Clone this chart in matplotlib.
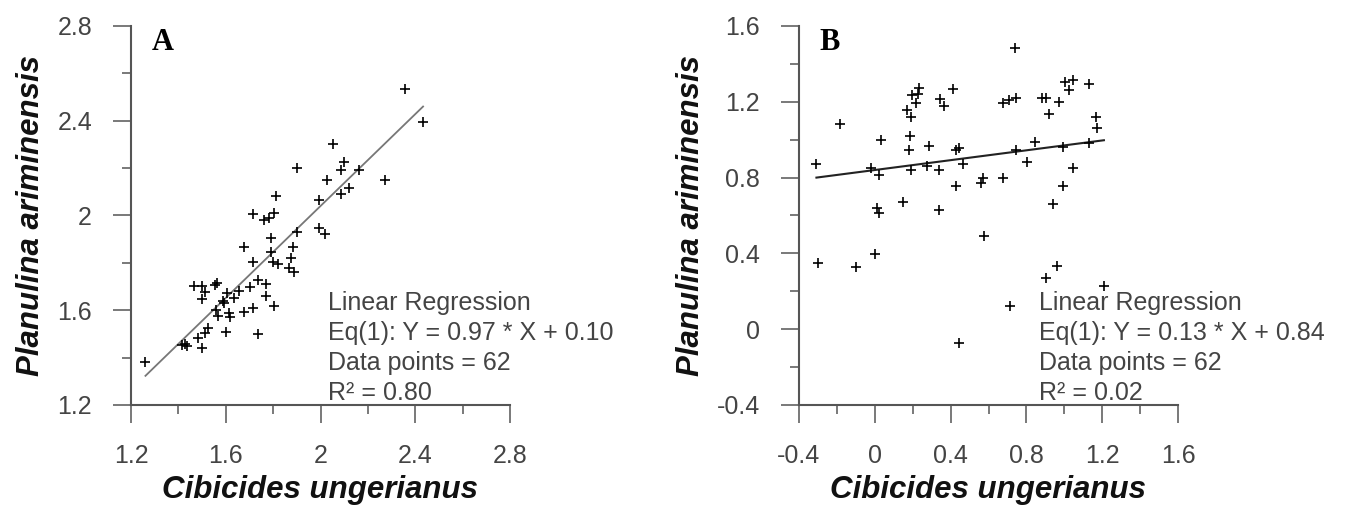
import matplotlib
matplotlib.use('Agg')
import matplotlib.pyplot as plt
from matplotlib.ticker import MultipleLocator, FormatStrFormatter

# Panel A: Cibicides ungerianus (x) vs Planulina ariminensis (y)
xa = [1.261, 2.358, 2.433, 2.052, 2.100, 2.086, 2.161, 1.900, 2.026, 2.271,
      2.120, 2.086, 1.994, 1.814, 1.714, 1.802, 1.784, 1.761, 1.900, 1.994,
      2.017, 1.789, 1.677, 1.882, 1.789, 1.874, 1.714, 1.798, 1.821, 1.867,
      1.889, 1.468, 1.499, 1.511, 1.499, 1.564, 1.555, 1.605, 1.635, 1.658,
      1.703, 1.738, 1.771, 1.771, 1.592, 1.559, 1.612, 1.567, 1.620, 1.677,
      1.714, 1.805, 1.601, 1.738, 1.526, 1.514, 1.483, 1.499, 1.415, 1.430,
      1.438, 1.590]
ya = [1.380, 2.536, 2.393, 2.301, 2.227, 2.192, 2.192, 2.199, 2.149, 2.149,
      2.114, 2.089, 2.065, 2.082, 2.006, 2.011, 1.988, 1.981, 1.931, 1.948,
      1.920, 1.903, 1.868, 1.868, 1.844, 1.822, 1.802, 1.802, 1.794, 1.779,
      1.762, 1.702, 1.702, 1.676, 1.647, 1.713, 1.705, 1.674, 1.650, 1.681,
      1.699, 1.727, 1.709, 1.660, 1.632, 1.601, 1.587, 1.576, 1.573, 1.591,
      1.608, 1.618, 1.507, 1.498, 1.524, 1.503, 1.484, 1.439, 1.453, 1.456,
      1.450, 1.640]
slope_a, icpt_a, n_a, r2_a = 0.97, 0.10, 62, 0.80

# Panel B
xb = [-0.308, -0.298, -0.185, -0.097, -0.001, -0.020, 0.021, 0.034, 0.009, 0.021,
      0.148, 0.168, 0.191, 0.187, 0.181, 0.191, 0.195, 0.220, 0.230, 0.234,
      0.285, 0.273, 0.338, 0.338, 0.342, 0.367, 0.412, 0.426, 0.445, 0.465,
      0.430, 0.445, 0.559, 0.573, 0.578, 0.676, 0.676, 0.710, 0.739, 0.745,
      0.743, 0.715, 0.802, 0.847, 0.880, 0.905, 0.919, 0.970, 0.993, 0.993,
      0.941, 0.905, 0.960, 1.048, 1.003, 1.023, 1.048, 1.130, 1.130, 1.166,
      1.175, 1.209]
yb = [0.872, 0.351, 1.083, 0.330, 0.397, 0.849, 0.814, 0.998, 0.638, 0.615,
      0.669, 1.157, 1.118, 1.020, 0.946, 0.840, 1.236, 1.192, 1.239, 1.271,
      0.967, 0.863, 0.629, 0.840, 1.213, 1.178, 1.266, 0.946, 0.954, 0.872,
      0.756, -0.071, 0.773, 0.796, 0.492, 0.796, 1.192, 1.209, 1.486, 1.218,
      0.946, 0.122, 0.884, 0.990, 1.218, 1.218, 1.136, 1.201, 0.963, 0.756,
      0.661, 0.268, 0.334, 0.849, 1.306, 1.262, 1.315, 1.294, 0.981, 1.118,
      1.063, 0.228]
slope_b, icpt_b, n_b, r2_b = 0.13, 0.84, 62, 0.02

xlabel = 'Cibicides ungerianus'
ylabel = 'Planulina ariminensis'

plt.rcParams['font.family'] = ['Liberation Sans', 'DejaVu Sans']

fig = plt.figure(figsize=(13.45, 5.08), dpi=100)
axA = fig.add_axes([131/1345, 103/508, 379/1345, 379/508])
axB = fig.add_axes([799/1345, 103/508, 379/1345, 379/508])

spine_col = '#555555'
tick_col = '#444444'


def style_axis(ax, lo, hi):
    ax.set_xlim(lo, hi)
    ax.set_ylim(lo, hi)
    for s in ['top', 'right']:
        ax.spines[s].set_visible(False)
    for s in ['left', 'bottom']:
        ax.spines[s].set_linewidth(1.5)
        ax.spines[s].set_color(spine_col)
    for axis in (ax.xaxis, ax.yaxis):
        axis.set_major_locator(MultipleLocator(0.4))
        axis.set_minor_locator(MultipleLocator(0.2))
        axis.set_major_formatter(FormatStrFormatter('%g'))
    ax.tick_params(which='major', length=13, width=1.1, color=spine_col,
                   labelsize=18, labelcolor=tick_col, pad=15)
    ax.tick_params(which='minor', length=6.5, width=1.1, color=spine_col)
    ax.set_xlabel(xlabel, fontsize=22.5, fontweight='bold', style='italic',
                  labelpad=5, color='#111111')
    ax.set_ylabel(ylabel, fontsize=22.5, fontweight='bold', style='italic',
                  labelpad=8, color='#111111')


def panel(ax, x, y, slope, icpt, n, r2, letter, lo, hi, tx, lcol, lw):
    style_axis(ax, lo, hi)
    ax.plot(x, y, '+', color='k', ms=7, mew=1.2, linestyle='none', zorder=3)
    x0, x1 = min(x), max(x)
    ax.plot([x0, x1], [slope*x0 + icpt, slope*x1 + icpt], color=lcol, lw=lw, zorder=2)
    ax.text(0.055, 0.995, letter, transform=ax.transAxes, fontsize=22,
            fontweight='bold', family='Liberation Serif', va='top', ha='left')
    lines = ['Linear Regression',
             'Eq(1): Y = %.2f * X + %.2f' % (slope, icpt),
             'Data points = %d' % n,
             'R\u00b2 = %.2f' % r2]
    for i, s in enumerate(lines):
        ax.text(tx, 0.250 - i*0.0785, s, transform=ax.transAxes, fontsize=18,
                color='#444444', va='baseline', ha='left', clip_on=False)


panel(axA, xa, ya, slope_a, icpt_a, n_a, r2_a, 'A', 1.2, 2.8, 0.520, '#777777', 1.3)
panel(axB, xb, yb, slope_b, icpt_b, n_b, r2_b, 'B', -0.4, 1.6, 0.632, '#222222', 1.5)

fig.savefig('out.png', dpi=100)
